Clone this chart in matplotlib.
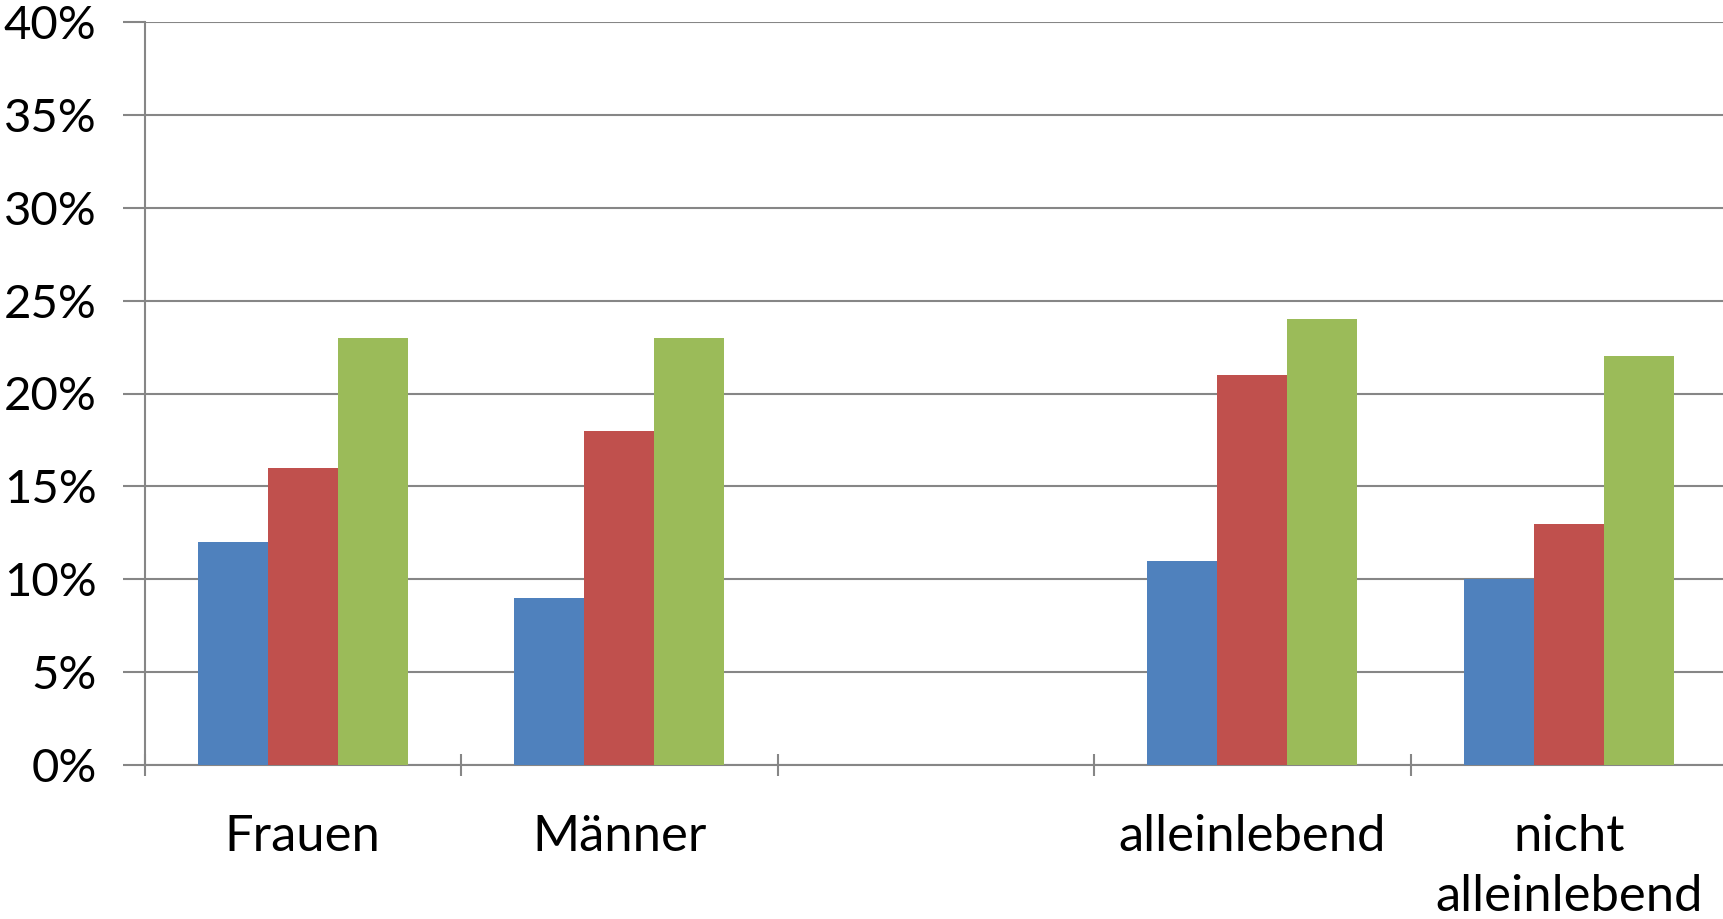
import matplotlib.pyplot as plt
import numpy as np

categories = ["Frauen", "Männer", "", "alleinlebend", "nicht\nalleinlebend"]
series_1 = [12, 9, np.nan, 11, 10]
series_2 = [16, 18, np.nan, 21, 13]
series_3 = [23, 23, np.nan, 24, 22]
y_ticks = [0, 5, 10, 15, 20, 25, 30, 35, 40]

colors = ["#4F81BD", "#C0504D", "#9BBB59"]
grid_col = "#868686"

plt.rcParams['font.family'] = ['Lato', 'DejaVu Sans']

fig = plt.figure(figsize=(17.23, 9.19), dpi=100)
ax = fig.add_axes([144.5 / 1723, 154 / 919, 1582.5 / 1723, 743 / 919])

x = np.arange(len(categories))
w = 70 / 316.5
for i, vals in enumerate([series_1, series_2, series_3]):
    ax.bar(x + (i - 1) * w, vals, width=w, color=colors[i], zorder=3)

ax.set_xlim(-0.5, len(categories) - 0.5)
ax.set_ylim(0, 40)
ax.set_yticks(y_ticks)
ax.set_yticklabels(["%d%%" % v for v in y_ticks])
ax.yaxis.grid(True, color=grid_col, linewidth=1.5, zorder=0)

# labels at category centres, tick marks at boundaries
ax.set_xticks(x)
ax.set_xticklabels(categories, linespacing=1.38)
ax.set_xticks(np.arange(-0.5, len(categories) - 0.5, 1), minor=True)
ax.tick_params(axis='x', which='major', length=0, pad=35, labelsize=36.5)
ax.tick_params(axis='x', which='minor', length=16, width=1.5, color=grid_col, direction='inout')
ax.tick_params(axis='y', length=16, width=1.5, color=grid_col, direction='out', pad=18.5, labelsize=34)

for s in ['top', 'right']:
    ax.spines[s].set_visible(False)
for s in ['left', 'bottom']:
    ax.spines[s].set_color(grid_col)
    ax.spines[s].set_linewidth(1.5)

plt.savefig("out.png", dpi=100)
